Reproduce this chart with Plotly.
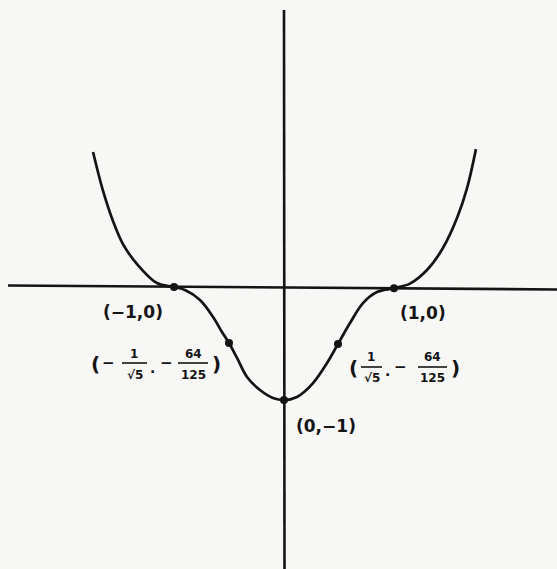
import plotly.graph_objects as go

# Curve points (x, y in graph units)
curve_x = [-1.736, -1.645, -1.555, -1.464, -1.336, -1.155, -1.0, -0.9, -0.764, -0.645,
           -0.564, -0.5, -0.427, -0.336, -0.218, -0.1, 0.0, 0.118, 0.264, 0.391, 0.491,
           0.6, 0.718, 0.845, 1.0, 1.145, 1.3, 1.445, 1.573, 1.664, 1.745]
curve_y = [1.195, 0.85, 0.585, 0.38, 0.203, 0.035, 0.0, -0.027, -0.115, -0.265,
           -0.398, -0.496, -0.628, -0.796, -0.912, -0.982, -1.0, -0.973, -0.85, -0.673, -0.504,
           -0.319, -0.142, -0.045, -0.01, 0.03, 0.15, 0.345, 0.61, 0.875, 1.22]

# Marked points
pt_x = [-1.0, -0.5, 0.0, 0.491, 1.0]
pt_y = [0.0, -0.496, -1.0, -0.504, -0.01]

INK = "#141414"
PAPER = "#f7f7f6"

# pixel -> graph units (layout helper only)
def gx(px):
    return (px - 284) / 110.0

def gy(py):
    return (287 - py) / 113.0

fig = go.Figure()
fig.add_trace(go.Scatter(x=curve_x, y=curve_y, mode="lines",
                         line=dict(color=INK, width=2.7, shape="spline", smoothing=1.0),
                         hoverinfo="skip", showlegend=False))
fig.add_trace(go.Scatter(x=pt_x, y=pt_y, mode="markers",
                         marker=dict(color=INK, size=8), hoverinfo="skip", showlegend=False))

shapes = [
    # x axis (slightly tilted like the scan)
    dict(type="line", xref="x", yref="y", x0=gx(8), y0=gy(285.5), x1=gx(557), y1=gy(289.5),
         line=dict(color=INK, width=2.6)),
    # y axis
    dict(type="line", xref="x", yref="y", x0=gx(284), y0=gy(10), x1=gx(284.5), y1=gy(569),
         line=dict(color=INK, width=2.6)),
]
# fraction bars
for (xa, xb, yb) in [(122, 147, 363), (178, 208, 363), (361, 382, 367), (418, 447, 367)]:
    shapes.append(dict(type="line", xref="x", yref="y", x0=gx(xa), y0=gy(yb), x1=gx(xb), y1=gy(yb),
                       line=dict(color=INK, width=1.6)))

FONT = "DejaVu Sans"
ann = []
def txt(s, px, py, size):
    ann.append(dict(text="<b>" + s + "</b>", x=gx(px), y=gy(py), xref="x", yref="y",
                    showarrow=False, font=dict(family=FONT, size=size, color=INK),
                    xanchor="center", yanchor="middle"))

txt("(−1,0)", 133, 312, 17)
txt("(1,0)", 423, 313, 17)
txt("(0,−1)", 326, 426, 17)
# left inflection label
txt("(", 95, 364, 20)
txt("−", 108, 363, 15)
txt("1", 134, 354, 12)
txt("√5", 135, 375, 12)
txt(".", 152, 368, 14)
txt("−", 166, 363, 15)
txt("64", 193, 354, 12)
txt("125", 193, 375, 12)
txt(")", 216, 364, 20)
# right inflection label
txt("(", 353, 368, 20)
txt("1", 371, 357, 12)
txt("√5", 372, 378, 12)
txt(".", 387, 371, 14)
txt("−", 400, 367, 15)
txt("64", 432, 357, 12)
txt("125", 432, 378, 12)
txt(")", 455, 368, 20)

fig.update_layout(
    width=557, height=569, autosize=False,
    margin=dict(l=0, r=0, t=0, b=0),
    paper_bgcolor=PAPER, plot_bgcolor=PAPER,
    xaxis=dict(range=[gx(0), gx(557)], visible=False, fixedrange=True),
    yaxis=dict(range=[gy(569), gy(0)], visible=False, fixedrange=True),
    shapes=shapes, annotations=ann, showlegend=False,
)
fig.write_html("out.html", config={"displayModeBar": False},
               post_script="document.body.style.margin='0';document.body.style.overflow='hidden';")
